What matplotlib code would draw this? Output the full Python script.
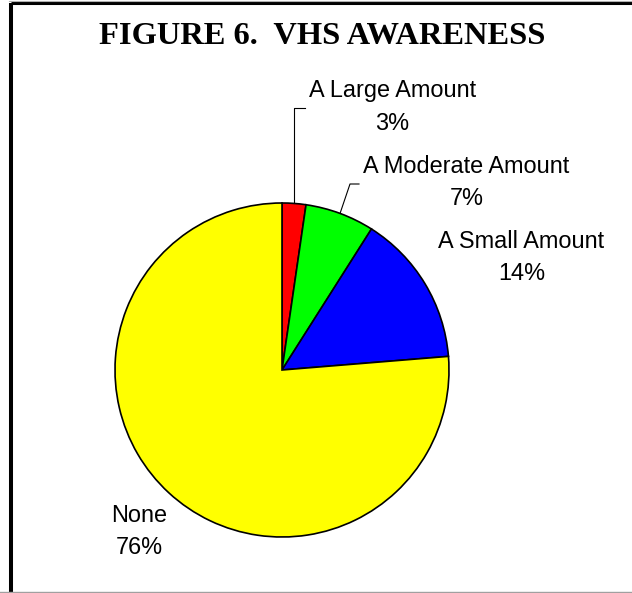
import numpy as np
import matplotlib
matplotlib.use("Agg")
import matplotlib.pyplot as plt

# =========================================================
# Data
# =========================================================
categories = ["A Large Amount", "A Moderate Amount", "A Small Amount", "None"]
shares = [2.3, 6.7, 14.7, 76.3]
pct_labels = ["3%", "7%", "14%", "76%"]
colors = ["#FF0000", "#00FF00", "#0000FF", "#FFFF00"]

W, H = 632, 593
fig = plt.figure(figsize=(W / 100, H / 100), dpi=100)
ax = fig.add_axes([0, 0, 1, 1])


def py(y):
    # pixel row -> data y
    return H - y


cx, cy, r = 282, py(370), 167
wedges, _ = ax.pie(
    shares,
    colors=colors,
    startangle=90,
    counterclock=False,
    center=(cx, cy),
    radius=r,
    wedgeprops=dict(edgecolor="black", linewidth=1.2),
    frame=True,
)
ax.set_xlim(0, W)
ax.set_ylim(0, H)
ax.set_aspect("equal")
ax.axis("off")


# leader lines for the two thin slices
def mid_point(w):
    ang = np.deg2rad((w.theta1 + w.theta2) / 2)
    return cx + r * np.cos(ang), cy + r * np.sin(ang)


x0, y0 = mid_point(wedges[0])
ax.plot([x0, x0, x0 + 11], [y0, py(108), py(108)], color="black", lw=0.8)
x1, y1 = mid_point(wedges[1])
ax.plot([x1, 350, 359], [y1, py(184), py(184)], color="black", lw=0.8)

# labels
label_pos = [(392.5, 91), (466.5, 166.5), (521.5, 241.5), (139.5, 516)]
for name, pct, (lx, ly) in zip(categories, pct_labels, label_pos):
    ax.text(lx, py(ly), name, ha="center", va="center", fontsize=16.9,
            family="Liberation Sans")
    ax.text(lx, py(ly + 32), pct, ha="center", va="center", fontsize=16.9,
            family="Liberation Sans")

ax.text(322.5, py(36), "FIGURE 6.  VHS AWARENESS", ha="center", va="center",
        fontsize=23.4, fontweight="bold", family="Liberation Serif")

# frame (cropped box)
ax.plot([11, 11], [py(3), py(593)], color="black", lw=2.9, solid_capstyle="butt")
ax.plot([11, W], [py(3), py(3)], color="black", lw=2.2, solid_capstyle="butt")
ax.plot([0, W], [py(591.5), py(591.5)], color="#a0a0a0", lw=1.0)
ax.plot([9, W], [py(1), py(1)], color="#b0b0b0", lw=0.8)

fig.savefig("out.png", dpi=100)
